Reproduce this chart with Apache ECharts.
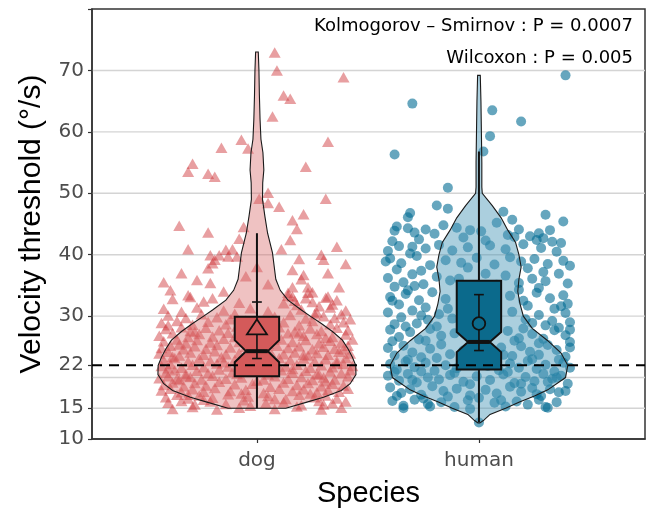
<!DOCTYPE html>
<html><head><meta charset="utf-8">
<script src="https://cdn.jsdelivr.net/npm/echarts@6/dist/echarts.min.js"></script>
<style>html,body{margin:0;padding:0;background:#fff}#c{width:647px;height:508px}</style>
</head><body><div id="c"></div><script>
// ---------- data ----------
const categories = ['dog', 'human'];
const categoryPos = [1, 2];
const yLabelValues = [10, 15, 22, 30, 40, 50, 60, 70];
const yTickValues = [10, 15, 22, 30, 40, 50, 60, 70, 80];
const gridValues = [15, 20, 30, 40, 50, 60, 70];
const refValue = 22;
const annotations = ['Kolmogorov \u2013 Smirnov : P = 0.0007', 'Wilcoxon : P = 0.005'];

// violin outlines: levels (°/s) and half widths (x units)
const dogViolinLevels = [15, 16, 16.8, 17.9, 19, 20.5, 22, 23.3, 24.7, 26.1, 27.5, 28.8, 30, 31, 32.6, 34.2, 36, 38, 40.3, 43.5, 46.2, 49, 51.7, 53.8, 56.6, 58.8, 62, 66, 70, 73];
const dogViolinHalfWidth = [0.13, 0.225, 0.30, 0.38, 0.42, 0.446, 0.445, 0.43, 0.41, 0.385, 0.34, 0.29, 0.24, 0.2, 0.14, 0.105, 0.085, 0.078, 0.07, 0.048, 0.036, 0.025, 0.026, 0.031, 0.027, 0.018, 0.014, 0.011, 0.009, 0.006];
const humanViolinLevels = [12.6, 13, 14, 15, 16, 17, 18, 20, 22, 24, 26, 28, 30, 32, 34, 36, 38, 40, 42, 44, 46, 48, 50, 51, 55, 60, 65, 69.2];
const humanViolinHalfWidth = [0.004, 0.02, 0.05, 0.12, 0.18, 0.25, 0.31, 0.39, 0.40, 0.37, 0.31, 0.24, 0.20, 0.185, 0.175, 0.18, 0.19, 0.18, 0.165, 0.13, 0.10, 0.06, 0.015, 0.013, 0.013, 0.011, 0.009, 0.006];

// box statistics per category
const boxQ1 = [20.2, 21.3];
const notchLo = [22.5, 24.15];
const boxMedian = [24.3, 25.8];
const notchHi = [26.1, 27.4];
const boxQ3 = [29.9, 35.75];
const whiskerLo = [15, 12.7];
const whiskerHi = [43.5, 56.8];
const meanValues = [27.85, 28.8];
const meanLo = [23.1, 24.4];
const meanHi = [32.3, 33.5];

// jittered observations [x position, velocity threshold]
const dogPoints = [
[1.08,72.9],[1.09,70.0],[1.12,65.9],[1.15,65.4],[1.07,62.5],[0.93,58.7],[0.96,57.3],[0.84,57.4],[0.71,54.8],[0.69,53.5],[0.78,53.2],[0.81,52.7],[1.22,54.3],[1.32,58.4],[1.31,49.1],[1.05,50.1],[1.05,48.4],[1.10,47.8],[1.01,49.1],[1.16,45.6],[1.21,46.6],[1.18,44.2],[1.15,42.4],[0.65,44.7],[0.78,43.6],[0.69,40.9],[0.92,42.6],[0.94,44.5],[1.11,40.9],[0.79,39.9],[0.83,39.9],[0.86,40.8],[1.29,40.0],[1.39,68.9],[1.36,41.3],
[0.87,39.7],[0.91,39.7],[0.89,40.9],[1.0,38.0],[1.19,39.3],[1.30,39.2],[1.16,37.5],[1.32,37.0],[1.21,36.7],[1.20,36.0],[1.23,34.7],[1.25,33.9],[1.23,33.8],[1.37,34.7],[0.61,34.2],[0.73,35.9],[0.79,35.4],[0.78,37.8],[0.80,38.6],[0.81,39.2],[0.69,33.4],[1.14,33.8],[1.16,34.7],[1.32,33.2],[1.16,33.2],[0.58,35.5],[0.66,37.0],[0.95,36.5],[1.05,35.2],[0.85,34.0],[1.40,38.5],
[0.62,32.8],[0.70,33.1],[0.76,32.4],[0.80,32.9],[0.92,32.2],[1.14,33.3],[1.17,32.5],[1.22,32.9],[1.25,32.3],[1.31,33.0],[1.36,32.6],[1.34,31.9],[1.28,31.6],[1.18,31.8],[1.12,32.1],
[0.58,31.2],[0.66,30.7],[0.73,31.4],[0.85,30.9],[0.97,31.3],[1.05,30.8],[1.20,31.1],[1.27,30.6],[1.33,31.4],[1.40,30.9],
[0.60,30.1],[0.68,29.7],[0.75,30.3],[0.82,29.8],[0.90,30.4],[1.08,29.9],[1.15,30.2],[1.22,29.6],[1.30,30.0],[1.38,30.3],[1.42,29.5],
[0.57,28.9],[0.64,29.2],[0.71,28.6],[0.78,29.1],[0.86,28.7],[0.95,29.3],[1.03,28.8],[1.12,29.0],[1.19,28.5],[1.25,29.2],[1.33,28.7],[1.39,29.0],
[0.59,27.9],[0.66,28.2],[0.70,27.6],[0.77,28.1],[0.83,27.7],[0.91,28.3],[1.06,27.8],[1.10,28.2],[1.17,27.5],[1.24,28.0],[1.29,27.6],[1.36,28.1],[1.41,27.7],
[0.56,26.8],[0.62,27.2],[0.69,26.6],[0.74,27.1],[0.80,26.7],[0.87,27.3],[0.94,26.9],[1.02,27.0],[1.08,26.5],[1.14,27.2],[1.21,26.8],[1.27,27.1],[1.34,26.6],[1.40,27.0],
[0.58,25.9],[0.64,26.2],[0.68,25.6],[0.73,26.1],[0.79,25.7],[0.85,26.3],[0.92,25.8],[0.98,26.0],[1.05,25.5],[1.11,26.2],[1.16,25.8],[1.22,26.1],[1.28,25.6],[1.33,26.0],[1.38,25.7],[1.43,26.2],
[0.57,24.8],[0.61,25.2],[0.67,24.6],[0.72,25.1],[0.77,24.7],[0.82,25.3],[0.88,24.9],[0.95,25.0],[1.03,24.5],[1.09,25.2],[1.14,24.8],[1.19,25.1],[1.25,24.6],[1.30,25.0],[1.35,24.7],[1.41,25.2],
[0.56,23.9],[0.60,24.2],[0.65,23.6],[0.70,24.1],[0.76,23.7],[0.81,24.3],[0.86,23.8],[0.92,24.0],[0.99,23.5],[1.06,24.2],[1.12,23.8],[1.17,24.1],[1.23,23.6],[1.27,24.0],[1.32,23.7],[1.37,24.2],[1.42,23.9],
[0.58,22.8],[0.63,23.2],[0.69,22.6],[0.74,23.1],[0.79,22.7],[0.84,23.3],[0.90,22.9],[0.96,23.0],[1.04,22.5],[1.10,23.2],[1.15,22.8],[1.21,23.1],[1.26,22.6],[1.31,23.0],[1.36,22.7],[1.40,23.2],
[0.57,21.9],[0.61,22.2],[0.66,21.6],[0.71,22.1],[0.76,21.7],[0.82,22.3],[0.87,21.8],[0.94,22.0],[1.01,21.5],[1.07,22.2],[1.13,21.8],[1.18,22.1],[1.24,21.6],[1.29,22.0],[1.34,21.7],[1.39,22.2],[1.43,21.9],
[0.59,20.8],[0.63,21.2],[0.68,20.6],[0.73,21.1],[0.78,20.7],[0.83,21.3],[0.89,20.9],[0.97,21.0],[1.05,20.5],[1.11,21.2],[1.16,20.8],[1.22,21.1],[1.27,20.6],[1.33,21.0],[1.38,20.7],[1.42,21.2],
[0.56,19.9],[0.60,20.2],[0.65,19.6],[0.70,20.1],[0.75,19.7],[0.80,20.3],[0.86,19.8],[0.93,20.0],[1.00,19.5],[1.08,20.2],[1.14,19.8],[1.20,20.1],[1.25,19.6],[1.30,20.0],[1.35,19.7],[1.41,20.2],
[0.58,18.8],[0.62,19.2],[0.67,18.6],[0.72,19.1],[0.77,18.7],[0.83,19.3],[0.90,18.9],[0.98,19.0],[1.06,18.5],[1.12,19.2],[1.18,18.8],[1.23,19.1],[1.29,18.6],[1.34,19.0],[1.39,18.7],
[0.57,17.9],[0.61,18.2],[0.66,17.6],[0.71,18.1],[0.76,17.7],[0.81,18.3],[0.88,17.8],[0.95,18.0],[1.03,17.5],[1.10,18.2],[1.16,17.8],[1.21,18.1],[1.27,17.6],[1.32,18.0],[1.37,17.7],[1.41,18.2],
[0.59,16.8],[0.64,17.2],[0.69,16.6],[0.74,17.1],[0.80,16.7],[0.87,17.3],[0.96,16.9],[1.05,17.0],[1.13,16.5],[1.19,17.2],[1.26,16.8],[1.31,17.1],[1.36,16.6],
[0.60,15.9],[0.66,16.2],[0.72,15.6],[0.79,16.1],[0.86,15.7],[0.94,16.3],[1.04,15.8],[1.12,16.0],[1.20,15.5],[1.28,16.2],[1.34,15.8],[1.40,16.1],
[0.62,14.9],[0.71,15.2],[0.82,14.8],[0.92,15.1],[1.08,14.9],[1.18,15.3],[1.29,14.8],[1.38,15.1],
[0.60,28.5],[0.88,29.5],[1.26,30.3],[1.35,29.7],[0.72,27.4],[1.19,27.2],[0.65,25.4],[0.90,26.6],[1.31,26.5],[1.39,24.6],[0.62,23.4],[0.97,24.6],[1.21,23.7],[0.60,21.5],[0.85,22.5],[1.16,21.4],[1.36,22.3],[0.68,20.2],[0.91,20.6],[1.28,20.5],[0.64,19.8],[1.03,19.7],[1.31,19.4],[0.69,17.2],[0.93,17.4],[1.24,17.4],[0.76,16.4],[1.08,16.5],[1.30,15.6],[0.97,15.4]
];
const humanPoints = [
[2.39,69.2],[1.70,64.6],[2.06,63.5],[2.19,61.7],[2.05,59.3],[2.02,56.8],[1.62,56.3],[1.86,50.9],[1.81,48.0],[1.86,47.5],[1.69,46.8],[1.68,46.1],[2.11,47.0],[2.15,45.7],[2.30,46.5],[2.38,45.4],
[1.62,43.9],[1.68,44.3],[1.71,43.6],[1.76,44.1],[1.80,43.4],[1.90,44.4],[1.96,44.0],[2.01,43.8],[2.13,43.2],[2.16,42.9],[2.23,43.0],[2.27,43.5],[2.29,42.7],[2.26,42.4],[1.84,44.8],[2.08,45.2],
[1.59,40.6],[1.64,41.4],[1.70,41.3],[1.69,40.2],[1.76,41.0],[1.82,41.6],[1.88,40.7],[1.95,41.2],[2.05,41.5],[2.12,40.9],[2.20,41.7],[2.28,41.1],[2.35,40.5],[2.37,41.9],[1.61,42.2],[2.33,42.1],
[1.60,39.4],[1.65,38.6],[1.72,39.8],[1.78,38.3],[1.85,39.1],[1.92,38.7],[1.99,39.5],[2.07,38.4],[2.14,39.6],[2.19,38.9],[2.25,39.3],[2.31,38.5],[2.38,39.0],[2.41,38.2],[1.63,37.6],[2.22,37.8],[1.74,37.4],
[1.59,36.2],[1.66,35.5],[1.70,36.8],[1.75,35.2],[1.81,36.4],[1.87,35.8],[2.12,36.6],[2.18,35.4],[2.24,36.1],[2.30,35.7],[2.36,36.9],[2.40,35.3],[1.62,34.8],[2.27,34.6],[1.68,34.2],
[1.60,33.1],[1.67,33.6],[1.73,32.6],[1.79,33.9],[1.85,32.8],[2.14,33.3],[2.20,32.5],[2.26,33.8],[2.32,32.9],[2.38,33.4],[1.64,31.9],[2.22,31.7],[1.76,31.4],[2.34,31.2],
[1.59,30.6],[1.65,29.8],[1.70,30.9],[1.77,29.4],[1.82,30.3],[1.88,29.6],[2.15,30.7],[2.21,29.5],[2.27,30.2],[2.33,29.2],[2.39,30.5],[2.41,29.0],[1.62,28.7],[2.30,28.5],
[1.60,27.8],[1.64,26.6],[1.69,27.4],[1.73,26.2],[1.78,27.9],[1.83,26.8],[1.89,27.2],[2.13,27.6],[2.18,26.4],[2.24,27.1],[2.29,26.3],[2.34,27.7],[2.39,26.9],[2.41,27.8],[1.67,28.3],[2.36,28.1],
[1.59,24.8],[1.62,23.6],[1.66,25.2],[1.70,24.1],[1.74,23.3],[1.78,24.7],[1.83,25.4],[1.87,23.8],[1.93,24.4],[2.10,24.9],[2.15,23.5],[2.19,25.1],[2.23,24.2],[2.27,23.7],[2.31,25.3],[2.35,24.5],[2.39,23.4],[2.41,24.9],[1.97,23.1],[2.06,23.2],
[1.60,22.2],[1.63,21.3],[1.67,22.6],[1.71,21.7],[1.76,22.4],[1.80,21.1],[1.85,22.0],[1.90,21.5],[1.95,22.5],[2.04,21.9],[2.09,21.2],[2.14,22.3],[2.18,21.6],[2.22,22.7],[2.26,21.4],[2.30,22.1],[2.34,21.0],[2.38,22.4],[2.41,21.6],
[1.59,20.3],[1.64,19.5],[1.68,20.6],[1.72,19.2],[1.77,20.0],[1.82,19.7],[1.87,20.4],[1.93,19.3],[1.99,20.2],[2.05,19.6],[2.11,20.5],[2.16,19.1],[2.21,20.1],[2.25,19.4],[2.29,20.6],[2.33,19.8],[2.37,20.3],[2.40,19.0],
[1.60,18.4],[1.65,17.5],[1.69,18.1],[1.74,17.2],[1.79,18.6],[1.84,17.8],[1.90,18.2],[1.96,17.1],[2.03,18.0],[2.08,17.4],[2.14,18.5],[2.19,17.7],[2.24,18.3],[2.28,17.0],[2.32,18.1],[2.36,17.6],
[1.61,16.2],[1.66,15.4],[1.71,16.4],[1.77,15.7],[1.83,16.0],[1.89,15.2],[1.95,16.3],[2.07,15.9],[2.12,15.3],[2.17,16.1],[2.22,15.6],[2.27,16.4],[2.31,15.1],[2.35,16.0],
[1.66,15.0],[1.78,15.3],[1.96,14.9],[2.30,15.2],[2.0,12.7],
[1.63,44.6],[1.93,42.8],[2.03,42.3],[2.18,44.1],[2.32,44.0],[1.73,42.5],[1.58,38.9],[1.95,37.9],[2.03,36.9],[1.91,36.1],[2.08,35.1],[1.97,34.5],[2.29,37.2],[1.61,32.5],[1.71,34.9],[2.18,34.3],[2.40,32.0],[1.74,30.1],[1.86,31.2],[2.24,28.9],[2.37,31.6],[1.72,28.8],[1.81,28.3],[2.20,28.0],[2.27,25.6],[1.61,25.9],[1.76,26.0],[2.16,26.0],[2.41,25.8],[1.68,22.9],[1.81,23.2],[2.11,23.7],[2.24,23.0],[2.36,22.9],[1.62,20.9],[1.74,21.0],[1.89,20.8],[2.13,20.9],[2.35,20.0],[1.70,19.6],[1.96,18.9],[2.19,19.0],[2.31,19.3],[1.63,17.0],[1.86,16.9],[2.00,16.7],[2.26,17.3],[2.39,17.8],[1.75,16.6],[2.10,16.3]
];

// ---------- styling ----------
const X_MIN = 0.257, X_MAX = 2.748;
const pointColors = ['rgba(209,60,64,0.62)', 'rgba(4,108,148,0.76)'];
const violinFills = ['rgba(218,110,110,0.42)', 'rgba(80,155,185,0.48)'];
const boxFills = ['#d45a5a', '#0b6a8c'];
const violins = [[dogViolinLevels, dogViolinHalfWidth], [humanViolinLevels, humanViolinHalfWidth]];

function renderViolin(params, api) {
  const i = params.dataIndex, c = categoryPos[i];
  const lv = violins[i][0], hw = violins[i][1];
  const pts = [];
  for (let k = 0; k < lv.length; k++) pts.push(api.coord([c - hw[k], lv[k]]));
  for (let k = lv.length - 1; k >= 0; k--) pts.push(api.coord([c + hw[k], lv[k]]));
  return { type: 'polygon', shape: { points: pts }, style: { fill: violinFills[i], stroke: '#1a1a1a', lineWidth: 1.1 } };
}

function renderBox(params, api) {
  const i = params.dataIndex, c = categoryPos[i];
  const bw = 0.1, nw = 0.049, cap = 0.022;
  const P = (x, y) => api.coord([x, y]);
  const poly = [P(c - bw, boxQ1[i]), P(c - bw, notchLo[i]), P(c - nw, boxMedian[i]), P(c - bw, notchHi[i]), P(c - bw, boxQ3[i]),
                P(c + bw, boxQ3[i]), P(c + bw, notchHi[i]), P(c + nw, boxMedian[i]), P(c + bw, notchLo[i]), P(c + bw, boxQ1[i])];
  const ln = (a, b, w) => ({ type: 'line', shape: { x1: a[0], y1: a[1], x2: b[0], y2: b[1] }, style: { stroke: '#111', lineWidth: w } });
  const m = P(c, meanValues[i]);
  const children = [
    ln(P(c, whiskerLo[i]), P(c, boxQ1[i]), 2),
    ln(P(c, boxQ3[i]), P(c, whiskerHi[i]), 2),
    { type: 'polygon', shape: { points: poly }, style: { fill: boxFills[i], stroke: '#111', lineWidth: 2 } },
    ln(P(c - nw, boxMedian[i]), P(c + nw, boxMedian[i]), 4),
    ln(P(c, meanLo[i]), P(c, meanHi[i]), 1.6),
    ln(P(c - cap, meanLo[i]), P(c + cap, meanLo[i]), 1.6),
    ln(P(c - cap, meanHi[i]), P(c + cap, meanHi[i]), 1.6)
  ];
  if (i === 0) {
    children.push({ type: 'polygon', shape: { points: [[m[0], m[1] - 10], [m[0] - 10, m[1] + 5], [m[0] + 10, m[1] + 5]] }, style: { fill: boxFills[i], stroke: '#111', lineWidth: 1.8 } });
  } else {
    children.push({ type: 'circle', shape: { cx: m[0], cy: m[1], r: 6.3 }, style: { fill: boxFills[i], stroke: '#111', lineWidth: 1.8 } });
  }
  return { type: 'group', children };
}

function renderGrid(params, api) {
  const v = gridValues[params.dataIndex];
  const a = api.coord([X_MIN, v]), b = api.coord([X_MAX, v]);
  return { type: 'line', shape: { x1: a[0], y1: a[1], x2: b[0], y2: b[1] }, style: { stroke: '#d4d4d4', lineWidth: 1.4 } };
}
function renderRef(params, api) {
  const a = api.coord([X_MIN, refValue]), b = api.coord([X_MAX, refValue]);
  return { type: 'line', shape: { x1: a[0], y1: a[1], x2: b[0], y2: b[1] }, style: { stroke: '#000', lineWidth: 2, lineDash: [10, 7] } };
}

const chart = echarts.init(document.getElementById('c'), null, { renderer: 'canvas' });
chart.setOption({
  animation: false,
  backgroundColor: '#fff',
  grid: { left: 92, right: 2, top: 9, bottom: 69, show: true, borderColor: '#333', borderWidth: 1.5, containLabel: false, outerBoundsMode: 'none' },
  xAxis: {
    type: 'value', min: X_MIN, max: X_MAX,
    name: 'Species', nameLocation: 'middle', nameGap: 40,
    nameTextStyle: { fontFamily: 'Liberation Sans', fontSize: 29, color: '#000' },
    axisLine: { show: true, lineStyle: { color: '#333', width: 1.5 } },
    axisTick: { show: true, length: 4, lineStyle: { color: '#333', width: 1.2 }, customValues: categoryPos },
    axisLabel: { customValues: categoryPos, formatter: v => categories[categoryPos.indexOf(v)] || '', fontFamily: 'DejaVu Sans', fontSize: 20, color: '#4d4d4d', margin: 12 },
    splitLine: { show: false }
  },
  yAxis: {
    type: 'value', min: 10, max: 80,
    name: 'Velocity threshold (°/s)', nameLocation: 'middle', nameGap: 45,
    nameTextStyle: { fontFamily: 'Liberation Sans', fontSize: 30, color: '#000' },
    axisLine: { show: true, lineStyle: { color: '#333', width: 1.5 } },
    axisTick: { show: true, length: 4, lineStyle: { color: '#333', width: 1.2 }, customValues: yTickValues },
    axisLabel: { customValues: yLabelValues, fontFamily: 'DejaVu Sans', fontSize: 20, color: '#4d4d4d', margin: 8 },
    splitLine: { show: false }
  },
  graphic: [
    { type: 'text', right: 14, top: 17, style: { text: annotations[0], font: '18px "DejaVu Sans"', fill: '#000' } },
    { type: 'text', right: 14, top: 49, style: { text: annotations[1], font: '18px "DejaVu Sans"', fill: '#000' } }
  ],
  series: [
    { type: 'custom', renderItem: renderGrid, data: gridValues.map(v => [X_MIN, v]), z: 0, silent: true },
    { type: 'scatter', data: dogPoints, symbol: 'triangle', symbolSize: [12, 10.5], itemStyle: { color: pointColors[0] }, z: 1 },
    { type: 'scatter', data: humanPoints, symbol: 'circle', symbolSize: 10, itemStyle: { color: pointColors[1] }, z: 1 },
    { type: 'custom', renderItem: renderViolin, data: categoryPos.map(c => [c, 20]), z: 2, silent: true },
    { type: 'custom', renderItem: renderBox, data: categoryPos.map((c, i) => [c, boxMedian[i]]), z: 3, silent: true },
    { type: 'custom', renderItem: renderRef, data: [[X_MIN, refValue]], z: 4, silent: true }
  ]
});
</script></body></html>
